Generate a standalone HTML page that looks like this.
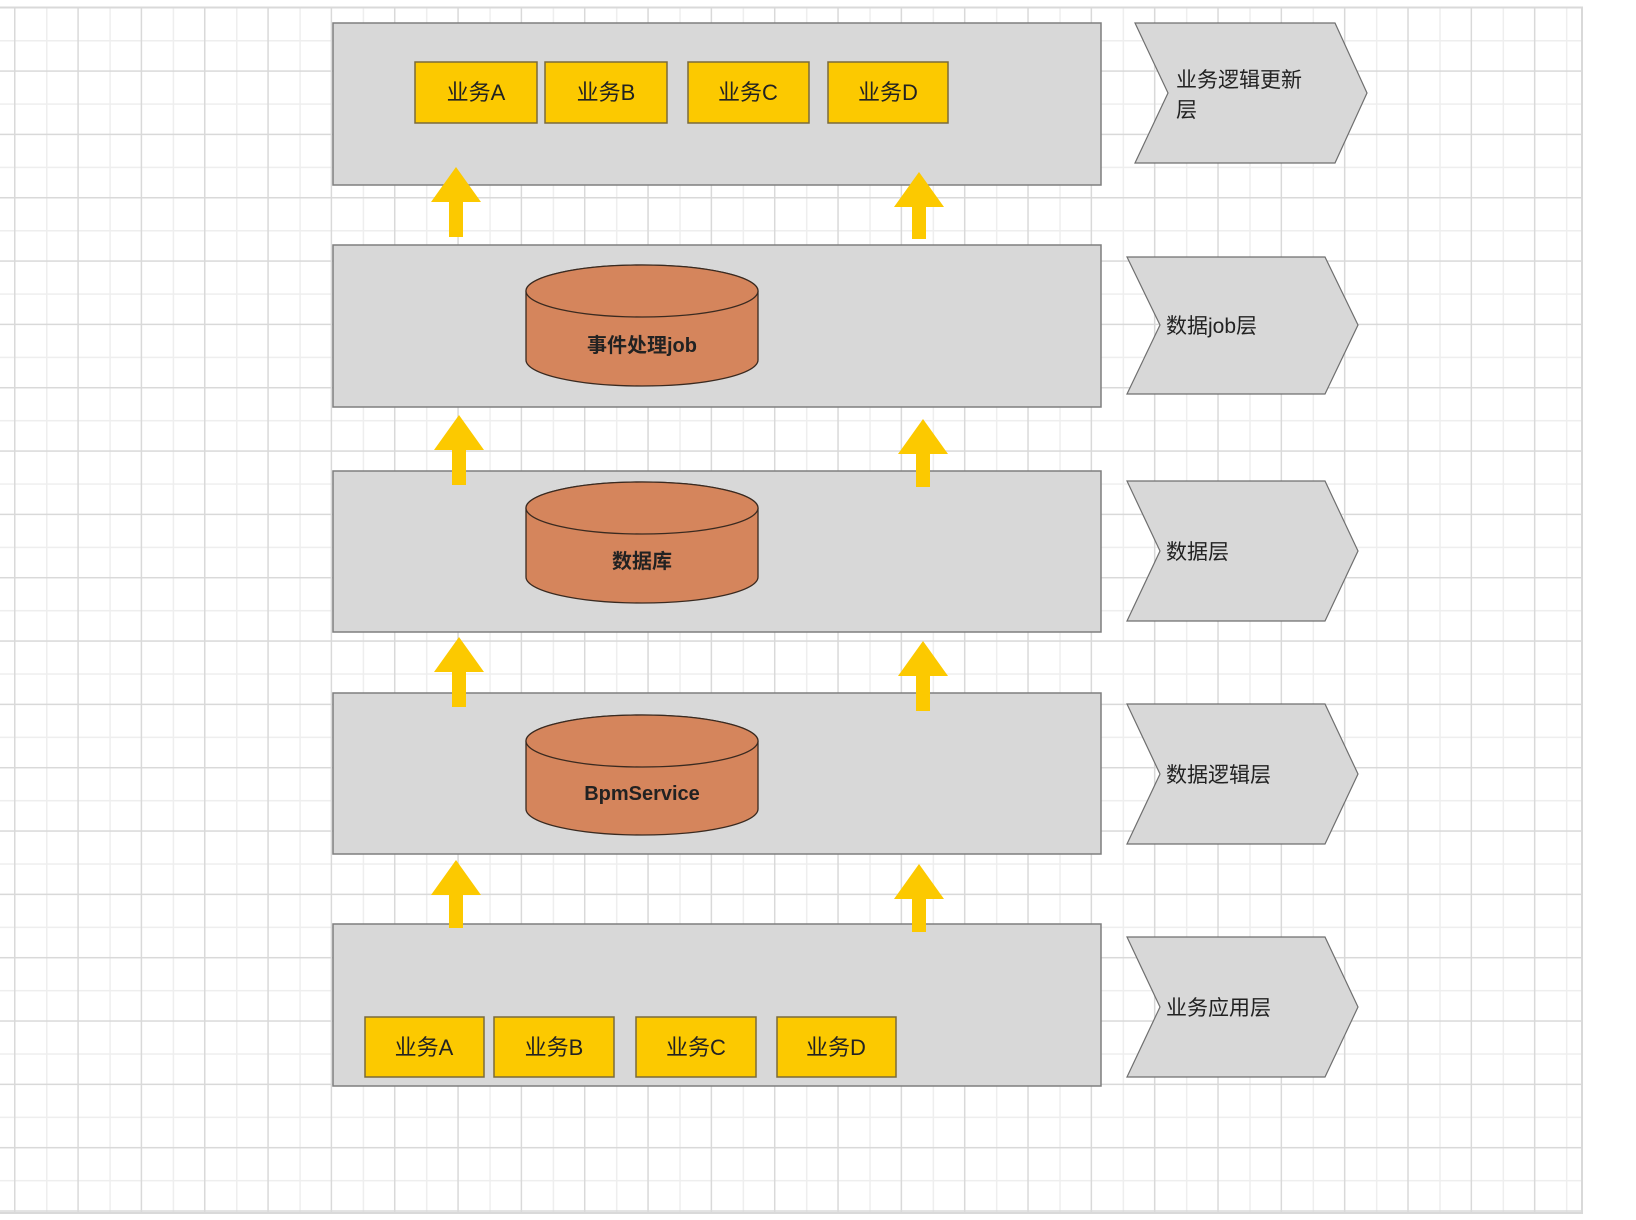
<!DOCTYPE html>
<html><head><meta charset="utf-8"><style>
html,body{margin:0;padding:0;background:#fff;width:1636px;height:1220px;overflow:hidden}
svg{display:block}
text{font-family:"Liberation Sans","Noto Sans CJK SC",sans-serif}
</style></head><body>
<svg width="1636" height="1220" xmlns="http://www.w3.org/2000/svg">
<defs>
<pattern id="gl" x="46" y="40" width="63.33" height="63.33" patternUnits="userSpaceOnUse">
<rect x="0" y="0" width="1.5" height="63.33" fill="#eeeeee"/><rect x="0" y="0" width="63.33" height="1.5" fill="#eeeeee"/>
</pattern>
<pattern id="gd" x="14" y="7" width="63.33" height="63.33" patternUnits="userSpaceOnUse">
<rect x="0" y="0" width="1.5" height="63.33" fill="#d9d9d9"/><rect x="0" y="0" width="63.33" height="1.5" fill="#d9d9d9"/>
</pattern>
</defs>
<rect x="0" y="7" width="1583" height="1207" fill="url(#gl)"/>
<rect x="0" y="7" width="1583" height="1207" fill="url(#gd)"/>
<rect x="0" y="6.5" width="1583" height="2" fill="#d9d9d9"/>
<rect x="0" y="1212" width="1583" height="2" fill="#d9d9d9"/>
<rect x="1581" y="7" width="2" height="1207" fill="#d9d9d9"/>

<g fill="#d8d8d8" stroke="#7f7f7f" stroke-width="1.5">
<rect x="333" y="23" width="768" height="162"/>
<rect x="333" y="245" width="768" height="162"/>
<rect x="333" y="471" width="768" height="161"/>
<rect x="333" y="693" width="768" height="161"/>
<rect x="333" y="924" width="768" height="162"/>
</g>

<g fill="#d8d8d8" stroke="#6f6f6f" stroke-width="1.2">
<polygon points="1135,23 1335,23 1367,93 1335,163 1135,163 1168,93"/>
<polygon points="1127,257 1325,257 1358,325 1325,394 1127,394 1160,325"/>
<polygon points="1127,481 1325,481 1358,551 1325,621 1127,621 1160,551"/>
<polygon points="1127,704 1325,704 1358,774 1325,844 1127,844 1160,774"/>
<polygon points="1127,937 1325,937 1358,1007 1325,1077 1127,1077 1160,1007"/>
</g>
<g font-size="21" fill="#222">
<text x="1176" y="87">业务逻辑更新</text>
<text x="1176" y="117">层</text>
<text x="1166" y="333">数据job层</text>
<text x="1166" y="559">数据层</text>
<text x="1166" y="782">数据逻辑层</text>
<text x="1166" y="1015">业务应用层</text>
</g>

<g fill="#fcc900" stroke="#7a6a3a" stroke-width="1.5">
<rect x="415" y="62" width="122" height="61"/>
<rect x="545" y="62" width="122" height="61"/>
<rect x="688" y="62" width="121" height="61"/>
<rect x="828" y="62" width="120" height="61"/>
<rect x="365" y="1017" width="119" height="60"/>
<rect x="494" y="1017" width="120" height="60"/>
<rect x="636" y="1017" width="120" height="60"/>
<rect x="777" y="1017" width="119" height="60"/>
</g>
<g font-size="22" fill="#222" text-anchor="middle">
<text x="476" y="100">业务A</text>
<text x="606" y="100">业务B</text>
<text x="748" y="100">业务C</text>
<text x="888" y="100">业务D</text>
<text x="424" y="1055">业务A</text>
<text x="554" y="1055">业务B</text>
<text x="696" y="1055">业务C</text>
<text x="836" y="1055">业务D</text>
</g>

<g fill="#d5855c" stroke="#3a2a20" stroke-width="1.3">
<path d="M526,291 L526,360 A116,26 0 0 0 758,360 L758,291 A116,26 0 0 0 526,291 Z"/>
<ellipse cx="642" cy="291" rx="116" ry="26"/>
<path d="M526,508 L526,577 A116,26 0 0 0 758,577 L758,508 A116,26 0 0 0 526,508 Z"/>
<ellipse cx="642" cy="508" rx="116" ry="26"/>
<path d="M526,741 L526,809 A116,26 0 0 0 758,809 L758,741 A116,26 0 0 0 526,741 Z"/>
<ellipse cx="642" cy="741" rx="116" ry="26"/>
</g>
<g font-size="20" font-weight="bold" fill="#222" text-anchor="middle">
<text x="642" y="352">事件处理job</text>
<text x="642" y="568">数据库</text>
<text x="642" y="800">BpmService</text>
</g>

<g fill="#fcc900">
<polygon points="456,167 481,202 463,202 463,237 449,237 449,202 431,202"/>
<polygon points="919,172 944,207 926,207 926,239 912,239 912,207 894,207"/>
<polygon points="459,415 484,450 466,450 466,485 452,485 452,450 434,450"/>
<polygon points="923,419 948,454 930,454 930,487 916,487 916,454 898,454"/>
<polygon points="459,637 484,672 466,672 466,707 452,707 452,672 434,672"/>
<polygon points="923,641 948,676 930,676 930,711 916,711 916,676 898,676"/>
<polygon points="456,860 481,895 463,895 463,928 449,928 449,895 431,895"/>
<polygon points="919,864 944,899 926,899 926,932 912,932 912,899 894,899"/>
</g>
</svg>
</body></html>
